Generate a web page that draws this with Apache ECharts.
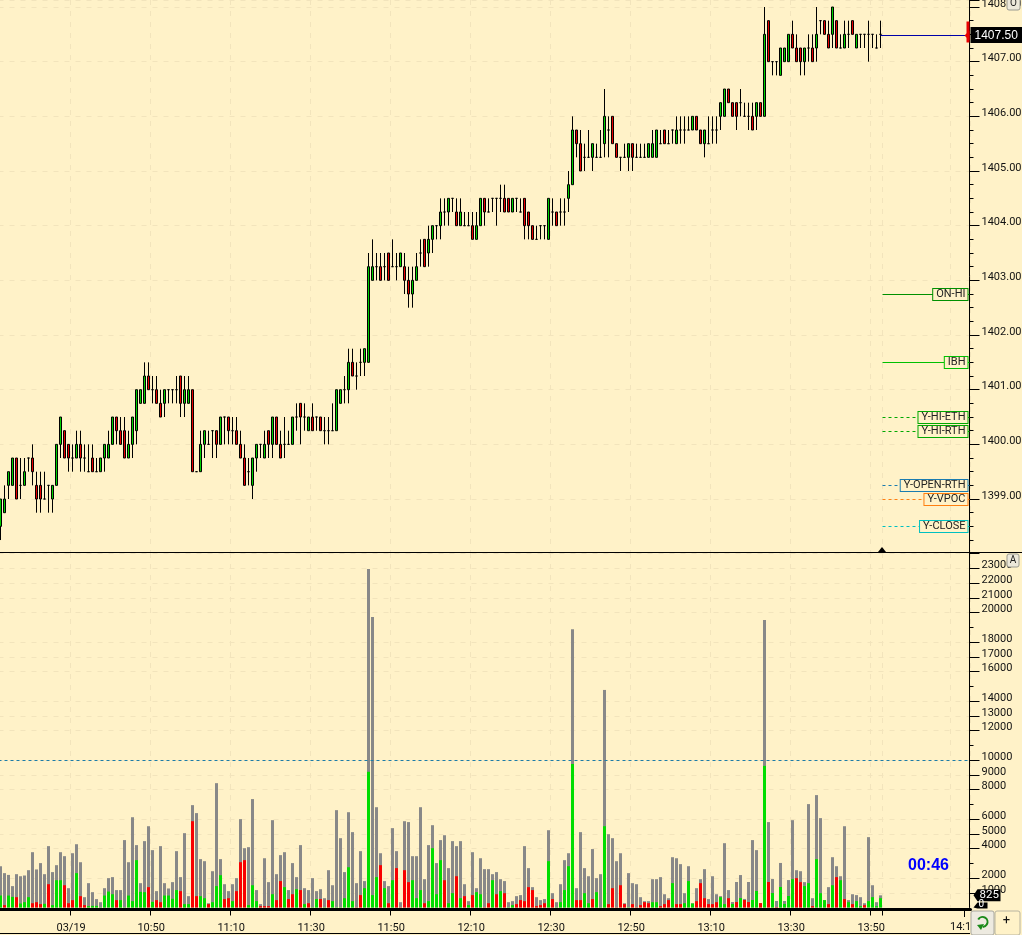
<!DOCTYPE html>
<html><head><meta charset="utf-8">
<style>html,body{margin:0;padding:0;background:#FFF2C8}#c{width:1022px;height:935px}</style>
<script src="https://cdn.jsdelivr.net/npm/echarts@6/dist/echarts.min.js"></script>
</head><body><div id="c"></div>
<script>
const opens=[1398.5,1398.75,1399.25,1399.25,1399.75,1399.25,1399.25,1399.75,1399.75,1399.25,
1399.25,1399,1399.25,1399,1399.25,1400,1400.25,1400,1399.75,1399.75,
1400,1399.75,1399.5,1399.75,1399.5,1399.5,1399.75,1399.75,1400,1400.5,
1400.25,1400.25,1399.75,1400,1400.25,1400.75,1400.75,1401.25,1401,1401,
1400.75,1400.75,1401,1401,1401,1401.25,1400.75,1400.75,1401,1399.5,
1399.5,1400,1400,1400.25,1400.25,1400,1400.5,1400.5,1400.25,1400.25,
1400,1399.75,1399.5,1399.25,1399.75,1400,1399.75,1400.25,1400,1400.5,
1400,1400,1400,1400,1400.5,1400.75,1400.5,1400.25,1400.5,1400.5,
1400.5,1400.25,1400.25,1400.25,1400.25,1400.75,1401,1401,1401.5,1401.25,
1401.5,1401.5,1401.5,1403,1403.25,1403.25,1403.25,1403.5,1403.25,1403.25,
1403.25,1403.25,1403,1402.75,1403,1403.5,1403.75,1403.5,1403.75,1404,
1404,1404.25,1404.25,1404.5,1404.25,1404,1404,1404,1404,1403.75,
1404,1404.5,1404.25,1404.5,1404.5,1404.5,1404.5,1404.5,1404.25,1404.5,
1404.25,1404.5,1404.25,1404,1403.75,1404,1404,1403.75,1404.25,1404.25,
1404.25,1404.25,1404.5,1404.75,1405.75,1405.5,1405.25,1405.25,1405.25,1405.25,
1405.25,1405.5,1405.75,1406,1405.5,1405.25,1405.25,1405.25,1405.5,1405.25,
1405.25,1405.25,1405.25,1405.25,1405.25,1405.5,1405.75,1405.5,1405.75,1405.5,
1405.75,1405.75,1405.75,1405.75,1406,1405.75,1405.5,1405.5,1405.75,1405.75,
1406,1406,1406.5,1406.25,1406.25,1406.25,1406,1406,1406,1406,
1406.25,1406,1407.75,1407,1407,1406.75,1407,1407,1407.5,1407.25,
1407.25,1407,1407.25,1407.25,1407.25,1407.75,1407.75,1407.5,1407.5,1407.75,
1407.25,1407.25,1407.5,1407.75,1407.25,1407.5,1407.5,1407.5,1407.5,1407.25,1407.5];
const highs=[1399,1399.25,1399.5,1399.75,1399.75,1399.75,1399.75,1399.75,1400,1399.5,
1399.5,1399.5,1399.25,1399.25,1400,1400.5,1400.25,1400,1400,1400.25,
1400.25,1400,1400,1400,1399.75,1399.75,1400,1400.25,1400.5,1400.5,
1400.5,1400.5,1400.25,1400.5,1401,1401,1401.5,1401.5,1401.25,1401.25,
1401,1401,1401,1401,1401.25,1401.25,1401.25,1401.25,1401,1399.5,
1400.25,1400.25,1400.25,1400.25,1400.25,1400.5,1400.5,1400.5,1400.5,1400.5,
1400.25,1400,1399.75,1399.75,1400,1400,1400.25,1400.25,1400.5,1400.5,
1400.25,1400.5,1400.25,1400.5,1400.75,1400.75,1400.75,1400.5,1400.75,1400.5,
1400.5,1400.5,1400.5,1400.75,1401,1401,1401.25,1401.75,1401.75,1401.5,
1401.75,1401.75,1403.5,1403.75,1403.5,1403.5,1403.5,1403.5,1403.75,1403.5,
1403.5,1403.5,1403.25,1403.25,1403.5,1403.75,1403.75,1404,1404,1404,
1404.5,1404.5,1404.5,1404.5,1404.5,1404.5,1404.25,1404.25,1404.25,1404.25,
1404.5,1404.5,1404.5,1404.5,1404.5,1404.75,1404.75,1404.5,1404.5,1404.5,
1404.5,1404.5,1404.25,1404,1404,1404,1404,1404.5,1404.5,1404.25,
1404.5,1404.5,1405,1406,1405.75,1405.75,1405.5,1405.75,1405.5,1405.5,
1405.75,1406.5,1406,1406,1405.5,1405.25,1405.5,1405.5,1405.5,1405.5,
1405.5,1405.5,1405.5,1405.75,1405.75,1405.75,1405.75,1405.75,1405.75,1406,
1406,1406,1406,1406,1406,1405.75,1405.75,1406,1406,1406,
1406.25,1406.5,1406.5,1406.25,1406.25,1406.5,1406.25,1406.25,1406.25,1406.25,
1406.25,1408,1407.75,1407,1407,1407.25,1407.25,1407.5,1407.75,1407.5,
1407.25,1407.25,1407.5,1407.5,1408,1407.75,1407.75,1407.75,1408,1407.75,
1407.5,1407.75,1407.75,1407.75,1407.5,1407.5,1407.5,1407.75,1407.5,1407.5,1407.75];
const lows=[1398.25,1398.75,1399,1399.25,1399,1399,1399.25,1399.5,1399.25,1398.75,
1398.75,1399,1398.75,1398.75,1399.25,1399.75,1399.75,1399.5,1399.5,1399.75,
1399.5,1399.5,1399.5,1399.5,1399.5,1399.5,1399.5,1399.75,1400,1400,
1400,1399.75,1399.75,1399.75,1400,1400.75,1400.75,1401,1400.75,1400.75,
1400.5,1400.5,1400.75,1400.75,1400.75,1400.5,1400.5,1400.75,1399.5,1399.5,
1399.5,1399.75,1400,1399.75,1399.75,1400,1400,1400,1400,1400,
1399.75,1399.25,1399.25,1399,1399.5,1399.75,1399.75,1399.75,1399.75,1400,
1399.75,1399.75,1400,1400,1400.25,1400,1400.25,1400.25,1400.25,1400.25,
1400.25,1400,1400,1400.25,1400.25,1400.75,1400.75,1400.75,1401.25,1401,
1401.25,1401.25,1401.5,1403,1403,1403,1403,1403,1403.25,1403,
1403.25,1402.75,1402.5,1402.5,1403,1403.25,1403.25,1403.25,1403.5,1403.75,
1403.75,1404,1404,1404.25,1404,1404,1404,1404,1403.75,1403.75,
1404,1404,1404.25,1404.25,1404,1404.25,1404.25,1404.25,1404.25,1404.25,
1404.25,1403.75,1403.75,1403.75,1403.75,1403.75,1403.75,1403.75,1404,1404,
1404,1404,1404.25,1404.75,1405.25,1405,1405,1405.25,1405,1405.25,
1405.25,1405.25,1405.25,1405.5,1405.25,1405,1405.25,1405,1405,1405.25,
1405.25,1405.25,1405.25,1405.25,1405.25,1405.5,1405.5,1405.5,1405.5,1405.5,
1405.5,1405.5,1405.75,1405.75,1405.75,1405.5,1405.25,1405.5,1405.5,1405.5,
1405.75,1406,1406.25,1406,1405.75,1406,1406,1405.75,1405.75,1405.75,
1406,1406,1407,1406.75,1406.75,1406.75,1407,1407,1407.25,1407,
1406.75,1406.75,1407,1407,1407,1407.5,1407.5,1407.25,1407.25,1407.25,
1407.25,1407.25,1407.25,1407.5,1407.25,1407.25,1407.25,1407,1407.25,1407.25,1407.25];
const closes=[1399,1399,1399.5,1399.75,1399,1399.25,1399.5,1399.75,1399.5,1399,
1399,1399,1399.25,1399.25,1400,1400.5,1399.75,1399.75,1399.75,1400,
1399.75,1399.75,1399.5,1399.5,1399.5,1399.75,1400,1400,1400.5,1400.25,
1400,1399.75,1400,1400.5,1401,1401,1401.25,1401,1401,1400.75,
1400.5,1401,1401,1401,1401,1400.75,1401,1401,1399.5,1399.5,
1400,1400.25,1400,1400.25,1400,1400.5,1400.5,1400.25,1400.25,1400,
1399.75,1399.25,1399.5,1399.75,1400,1400,1400,1400,1400.5,1400,
1399.75,1400,1400,1400.5,1400.5,1400.5,1400.5,1400.5,1400.25,1400.5,
1400.25,1400.25,1400.25,1400.25,1401,1401,1401,1401.5,1401.25,1401.25,
1401.5,1401.75,1403.25,1403.25,1403.25,1403,1403.25,1403,1403.25,1403.25,
1403.5,1403,1402.75,1403,1403.25,1403.5,1403.25,1403.75,1404,1404,
1404.25,1404.25,1404.5,1404.5,1404,1404.25,1404,1404,1403.75,1404,
1404.5,1404.25,1404.25,1404.5,1404.5,1404.5,1404.25,1404.25,1404.5,1404.5,
1404.25,1404,1404,1403.75,1403.75,1404,1404,1404.5,1404.25,1404,
1404.25,1404.25,1404.75,1405.75,1405.5,1405,1405.25,1405.25,1405.5,1405.25,
1405.25,1406,1405.75,1405.5,1405.25,1405.25,1405.25,1405.5,1405.25,1405.25,
1405.25,1405.25,1405.5,1405.5,1405.75,1405.5,1405.5,1405.5,1405.75,1405.75,
1405.75,1405.75,1405.75,1406,1405.75,1405.5,1405.75,1405.5,1405.75,1405.75,
1406.25,1406.5,1406.25,1406,1406,1406.25,1406,1406,1405.75,1406.25,
1406,1407.5,1407,1407,1407,1407.25,1407.25,1407.5,1407.25,1407,
1407,1407.25,1407.25,1407,1407.5,1407.75,1407.5,1407.25,1408,1407.25,
1407.25,1407.5,1407.5,1407.5,1407.5,1407.5,1407.5,1407.5,1407.5,1407.25,1407.5];
const volTotal=[2800,2330,2210,1450,2260,2120,2170,2530,3750,2580,
3010,2260,4160,2400,2870,3750,3480,1310,3680,4290,
3070,700,1650,1040,570,360,1310,1990,2060,1180,
1180,4570,3070,6120,4230,1650,4500,5510,3890,1110,
4160,1650,1290,1720,3820,2060,5040,770,6940,6400,
3280,3140,290,2460,8430,3280,1580,1110,1580,1990,
5990,4020,4090,7350,1180,230,3340,1720,5920,2260,
3550,3750,1180,3010,2060,4230,1310,1180,1990,1110,
1240,630,2530,1510,6600,4700,2400,6460,5110,1650,
3820,1790,22950,19700,6800,3680,1790,1450,5380,3820,
360,5850,5790,3480,3480,6800,1920,4230,5580,3010,
4570,4900,2670,4500,4160,4500,1580,430,3750,1310,
3340,2600,2600,2260,2400,1920,1790,360,430,770,
840,4160,2670,1380,700,500,570,5240,970,360,
1580,3210,3680,18870,1310,5110,2670,2120,3960,1990,
2260,14750,4970,4700,3140,3680,290,2330,1650,1580,
700,430,430,1920,1920,2060,900,630,3410,3340,
2940,970,2800,290,1310,1920,2600,570,2120,900,
770,4360,1180,370,1730,2200,580,1730,4570,3890,
290,19490,5790,1930,440,3020,440,1860,5920,2530,
2460,1720,7010,630,7620,6060,500,1380,3410,2800,
2120,5510,500,900,840,700,290,4770,1510,360,825];
const volDelta=[810,-160,810,720,-700,270,360,700,-290,-360,
-230,250,-1580,160,1850,1850,-1510,-290,-500,2330,
-770,-160,90,110,110,20,810,1080,900,-500,
500,20,810,430,3210,1060,1040,-1380,380,-500,
-360,810,810,590,1180,-1110,230,230,-5850,-770,
770,630,-230,360,1450,2190,-570,-630,430,-1110,
-3070,-3210,160,1510,430,-90,-90,-90,900,-500,
-1790,1380,-570,-900,1240,-1180,230,-290,20,570,
-570,20,-500,430,20,20,630,2730,430,-20,
-840,1310,9200,840,2060,-2870,1310,-290,1850,-2670,
-20,-2530,-1720,1850,630,1180,-290,430,4020,900,
3210,-1850,290,970,-2120,630,-770,160,-840,1040,
900,-20,-290,1850,-900,1110,-970,20,160,-230,
-500,-430,-1380,-1180,-90,-160,-290,3140,-570,20,
360,1180,2800,9730,-500,-500,970,290,-570,1040,
20,5510,-230,-1310,-20,-1510,-230,20,-230,-20,
-160,-360,-290,360,360,-90,-230,-500,1650,-230,
-230,290,1790,270,-430,-1650,-630,-230,-230,-360,
700,230,-630,240,-370,640,-510,-370,510,1120,
-300,9600,-1730,980,-30,1390,240,780,1920,-1990,
-1720,1450,1650,-90,3280,970,500,-230,1510,-2060,
1850,-570,360,-230,430,90,-160,430,700,90,630];
const levelNames=['ON-HI','IBH','Y-HI-ETH','Y-HI-RTH','Y-OPEN-RTH','Y-VPOC','Y-CLOSE'];
const levelPrices=[1402.75,1401.5,1400.5,1400.25,1399.25,1399,1398.5];
const levelColors=['#009000','#00c000','#00a800','#00a800','#1a7cb0','#ff7f10','#00c0c0'];
const levelSolid=[true,true,false,false,false,false,false];
const priceNow=1407.5, volNow=825, clockText='00:46', dateLabel='03/19', volRefLine=10000;
const volLabelled=[23000,22000,21000,20000,18000,17000,16000,14000,13000,12000,10000,9000,8000,6000,5000,4000,2000,1000];
const volShortTicks=[24000,19000,15000,11000,7000,3000];
const firstMinute=10*60+12, slotCount=243, dateSlot=18, labelStep=20, nowSlot=221, lateSlot=238;

const categories=[];
for(let i=0;i<slotCount;i++){
  const m=firstMinute+i;
  categories.push(i===dateSlot?dateLabel:String(Math.floor(m/60)).padStart(2,'0')+':'+String(m%60).padStart(2,'0'));
}
const isTimeSlot=i=>(i-dateSlot)%labelStep===0&&i>=dateSlot;
const candleData=opens.map((o,i)=>[o,closes[i],lows[i],highs[i]]);
const volGreen=volDelta.map(v=>v>0?v:0), volRed=volDelta.map(v=>v<0?-v:0);
const FONT='Roboto', BG='#FFF2C8', GRID='#F2E4BC';
const PMAX=1408+7/54.67, VMAX=(907.5-553)/0.01475;
const splitX={show:true,interval:(i)=>isTimeSlot(i)||i===nowSlot,lineStyle:{color:GRID,type:[5,6],width:1}};
const levelData=levelNames.map((n,i)=>[nowSlot,levelPrices[i],i]);

function renderLevel(p,api){
  const i=api.value(2), pt=api.coord([api.value(0),api.value(1)]);
  const x0=pt[0]-2,y=Math.floor(pt[1]+0.4)+0.5,xr=p.coordSys.x+p.coordSys.width-1;
  return {type:'group',children:[
    {type:'line',shape:{x1:x0,y1:y,x2:xr,y2:y},style:{stroke:levelColors[i],lineWidth:1,lineDash:levelSolid[i]?null:[3,3]}},
    {type:'text',z2:5,style:{text:levelNames[i],x:xr-2,y:y,align:'right',verticalAlign:'middle',font:'11px '+FONT,fill:'#222',
      backgroundColor:BG,borderColor:levelColors[i],borderWidth:1,padding:[0,2,0,3]}}
  ]};
}
function renderPriceNow(p,api){
  const pt=api.coord([api.value(0),api.value(1)]);
  const xr=p.coordSys.x+p.coordSys.width-1,y=Math.floor(pt[1])+1.5;
  return {type:'group',children:[
    {type:'line',shape:{x1:pt[0],y1:y,x2:xr,y2:y},style:{stroke:'#0000a8',lineWidth:1}},
    {type:'rect',shape:{x:xr-3,y:y-14,width:3,height:21},style:{fill:'#e80000'}},
    {type:'polygon',shape:{points:[[xr-5,y],[xr,y-5],[xr,y+5]]},style:{fill:'#e80000'}},
    {type:'rect',shape:{x:xr+1,y:y-8.5,width:52,height:16},style:{fill:'#000'}},
    {type:'text',style:{text:priceNow.toFixed(2),x:xr+5,y:y,verticalAlign:'middle',font:'12px "Liberation Sans"',fill:'#fff'}}
  ]};
}
function renderVolNow(p,api){
  const pt=api.coord([api.value(0),api.value(1)]);
  const xr=p.coordSys.x+p.coordSys.width-1,y=pt[1],base=api.coord([api.value(0),0])[1];
  return {type:'group',children:[
    {type:'polygon',shape:{points:[[xr+4,y],[xr+8,y-6],[xr+31,y-6],[xr+31,y+6],[xr+8,y+6]]},style:{fill:'#000'}},
    {type:'text',style:{text:String(volNow),x:xr+10,y:y,verticalAlign:'middle',font:'11.5px '+FONT,fill:'#fff'}},
    {type:'polygon',shape:{points:[[xr+4,base],[xr+8,base-5],[xr+18,base-5],[xr+18,base+1],[xr+8,base+1]]},style:{fill:'#000'}},
    {type:'text',style:{text:'0',x:xr+9,y:base-3,verticalAlign:'middle',font:'10px '+FONT,fill:'#fff'}}
  ]};
}
const rightLabel={show:true,margin:12,color:'#111',fontFamily:FONT,fontSize:11,verticalAlign:'bottom',lineHeight:6};

const option={
  animation:false,backgroundColor:BG,
  textStyle:{fontFamily:FONT},
  grid:[
    {left:-1.5,top:0,width:972,height:553.7,outerBoundsMode:'none'},
    {left:-1.5,top:553,width:972,height:354.5,outerBoundsMode:'none'}
  ],
  xAxis:[
    {type:'category',gridIndex:0,data:categories,boundaryGap:true,axisLine:{show:false},axisTick:{show:false},axisLabel:{show:false},splitLine:splitX},
    {type:'category',gridIndex:1,data:categories,boundaryGap:true,offset:2,
      axisLine:{show:true,onZero:false,lineStyle:{color:'#000',width:3}},
      axisTick:{show:true,length:6,interval:(i)=>(isTimeSlot(i)&&i!==lateSlot)||i===nowSlot,lineStyle:{color:'#000',width:1}},
      axisLabel:{show:true,interval:(i)=>isTimeSlot(i)&&i!==lateSlot,margin:13,color:'#111',fontFamily:FONT,fontSize:11,formatter:v=>v+' '},
      splitLine:splitX}
  ],
  yAxis:[
    {type:'value',gridIndex:0,position:'right',offset:-1,min:1398,max:PMAX,interval:1,scale:true,
      axisLine:{show:true,lineStyle:{color:'#000',width:1}},
      axisTick:{show:true,length:10,lineStyle:{color:'#000',width:1}},
      minorTick:{show:true,splitNumber:4,length:4,lineStyle:{color:'#000',width:1}},
      axisLabel:Object.assign({},rightLabel,{formatter:v=>(Number.isInteger(v)&&v!==1398)?v.toFixed(2):''}),
      splitLine:{show:true,lineStyle:{color:GRID,type:[5,6],width:1}}},
    {type:'value',gridIndex:1,position:'right',offset:-1,min:0,max:VMAX,interval:1000,
      axisLine:{show:true,lineStyle:{color:'#000',width:1}},
      axisTick:{show:true,length:10,customValues:volLabelled,lineStyle:{color:'#000',width:1}},
      axisLabel:Object.assign({},rightLabel,{customValues:volLabelled,formatter:v=>String(v)}),
      splitLine:{show:true,lineStyle:{color:GRID,type:[5,6],width:1}}},
    {type:'value',gridIndex:1,position:'right',offset:-1,min:0,max:VMAX,interval:1000,
      axisLine:{show:false},
      axisTick:{show:true,length:4,customValues:volShortTicks,lineStyle:{color:'#000',width:1}},
      axisLabel:{show:false},splitLine:{show:false}}
  ],
  series:[
    {name:'Price',type:'candlestick',xAxisIndex:0,yAxisIndex:0,data:candleData,barWidth:2,z:3,clip:true,
      itemStyle:{color:'#00d000',color0:'#e80000',borderColor:'#000',borderColor0:'#000',borderColorDoji:'#000',borderWidth:1}},
    {name:'Volume',type:'bar',xAxisIndex:1,yAxisIndex:1,data:volTotal,barWidth:3,barGap:'-100%',z:2,
      itemStyle:{color:'#888888'},
      markLine:{silent:true,symbol:'none',label:{show:false},lineStyle:{color:'#1c7ca8',type:[3,3],width:1},data:[{yAxis:volRefLine}]}},
    {name:'Bid',type:'bar',xAxisIndex:1,yAxisIndex:1,data:volGreen,barWidth:3,barGap:'-100%',z:3,itemStyle:{color:'#00dd00'}},
    {name:'Ask',type:'bar',xAxisIndex:1,yAxisIndex:1,data:volRed,barWidth:3,barGap:'-100%',z:3,itemStyle:{color:'#f80000'}},
    {name:'Levels',type:'custom',xAxisIndex:0,yAxisIndex:0,data:levelData,z:6,renderItem:renderLevel,clip:false},
    {name:'Last',type:'custom',xAxisIndex:0,yAxisIndex:0,data:[[opens.length-1,priceNow]],z:7,renderItem:renderPriceNow,clip:false},
    {name:'LastVol',type:'custom',xAxisIndex:1,yAxisIndex:1,data:[[opens.length-1,volNow]],z:7,renderItem:renderVolNow,clip:false}
  ],
  graphic:[
    {type:'line',z:20,shape:{x1:0,y1:552.5,x2:1022,y2:552.5},style:{stroke:'#000',lineWidth:1}},
    {type:'line',z:20,shape:{x1:0,y1:933.5,x2:970,y2:933.5},style:{stroke:'#000',lineWidth:1}},
    {type:'polygon',z:21,shape:{points:[[878,552],[882,547],[886,552]]},style:{fill:'#000'}},
    {type:'text',z:21,style:{text:clockText,x:908,y:866,verticalAlign:'middle',font:'bold 16px "Liberation Sans"',fill:'#0000ff'}},
    {type:'rect',z:14,shape:{x:969,y:911,width:3,height:8},style:{fill:BG}},
    {type:'line',z:15,shape:{x1:964.5,y1:911,x2:964.5,y2:917},style:{stroke:'#000',lineWidth:1}},
    {type:'text',z:15,style:{text:'14:10',x:950,y:927,verticalAlign:'middle',font:'11px '+FONT,fill:'#111'}},
    {type:'rect',z:30,shape:{x:1007,y:-3,width:13,height:13,r:2},style:{fill:'#ECE8DA',stroke:'#9a9a90'}},
    {type:'text',z:31,style:{text:'O',x:1013.5,y:3,align:'center',verticalAlign:'middle',font:'10px '+FONT,fill:'#222'}},
    {type:'rect',z:30,shape:{x:1007,y:554,width:12,height:13,r:2},style:{fill:'#ECE8DA',stroke:'#9a9a90'}},
    {type:'text',z:31,style:{text:'A',x:1013,y:560.5,align:'center',verticalAlign:'middle',font:'10px '+FONT,fill:'#222'}},
    {type:'rect',z:30,shape:{x:971,y:911,width:23,height:24,r:2},style:{fill:'#EDEAE0',stroke:'#a8a8a0'}},
    {type:'rect',z:30,shape:{x:995,y:911,width:25,height:24,r:2},style:{fill:BG,stroke:'#b8b4a0'}},
    {type:'arc',z:31,shape:{cx:982.5,cy:922,r:5,startAngle:-2.6,endAngle:1.5},style:{stroke:'#1a8a1a',fill:'none',lineWidth:2}},
    {type:'polygon',z:31,shape:{points:[[977,925],[984,924],[981,930]]},style:{fill:'#1a8a1a'}},
    {type:'text',z:31,style:{text:'+',x:1006.5,y:921,align:'center',verticalAlign:'middle',font:'13px '+FONT,fill:'#111'}}
  ]
};
const chart=echarts.init(document.getElementById('c'),null,{renderer:'canvas'});
chart.setOption(option);
</script></body></html>
